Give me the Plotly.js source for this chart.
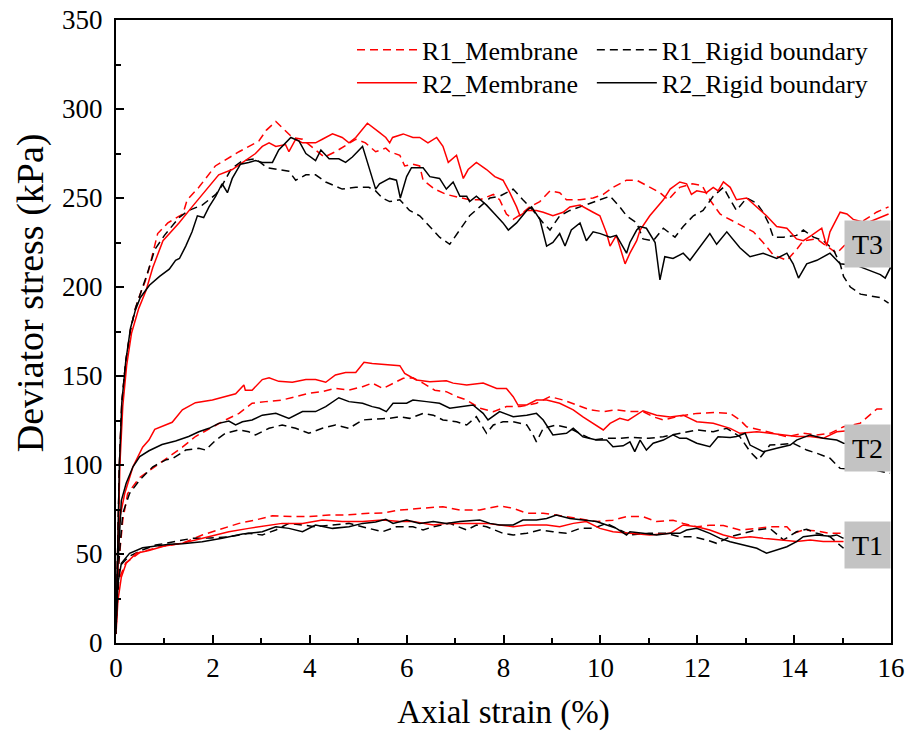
<!DOCTYPE html>
<html>
<head>
<meta charset="utf-8">
<script src="https://cdn.plot.ly/plotly-3.0.1.min.js"></script>
<style>html,body{margin:0;padding:0;background:#fff;}#chart{width:906px;height:731px;}</style>
</head>
<body>
<div id="chart"></div>
<script>
// ---- Data: [axial strain (%), deviator stress (kPa)] ----
const seriesNames = ["R1_Membrane", "R2_Membrane", "R1_Rigid boundary", "R2_Rigid boundary"];
const testLabels = ["T1", "T2", "T3"];
const testLabelY = [55.3, 109.4, 224.2];

const T3_R1_Membrane = [[0,5],[0.03,50],[0.07,100],[0.12,135],[0.2,158],[0.3,176],[0.4,188],[0.5,196],[0.6,203],[0.68,210],[0.76,219],[0.86,230],[1.07,236],[1.38,241],[1.47,249],[1.71,256],[2.05,268],[2.54,276],[2.95,282],[3.1,288],[3.3,293],[3.64,284],[3.85,283],[4.26,274],[4.3,273],[4.53,276],[4.81,281],[4.95,283],[5.15,281],[5.36,276],[5.57,278],[5.65,276],[5.86,274],[5.96,268],[6.13,269],[6.27,268],[6.34,260],[6.58,255],[6.82,252],[7.1,250],[7.3,249],[7.51,249],[7.79,252],[7.92,249],[8.06,241],[8.2,238],[8.37,241],[8.54,245],[8.75,248],[8.96,254],[9.16,253],[9.3,249],[9.58,249],[9.85,250],[10.06,252],[10.26,256],[10.54,260],[10.75,260],[10.95,257],[11.23,253],[11.4,249],[11.64,256],[11.9,258],[12.1,257],[12.26,249],[12.47,241],[12.6,239],[12.88,235],[13.16,231],[13.36,225],[13.57,218],[13.85,215],[14.05,221],[14.19,226],[14.47,227],[14.67,223],[14.88,219],[15.1,225],[15.3,235],[15.7,242],[15.95,245]];
const T3_R2_Membrane = [[0,5],[0.03,45],[0.08,100],[0.14,133],[0.22,156],[0.32,174],[0.47,188],[0.62,198],[0.76,211],[0.97,226],[1.24,234],[1.3,236],[1.57,245],[1.85,254],[2.12,263],[2.4,266],[2.61,270],[2.88,275],[3.02,279],[3.16,281],[3.3,279],[3.5,280],[3.57,276],[3.71,283],[3.85,281],[4.12,281],[4.26,283],[4.47,286],[4.67,284],[4.81,281],[4.95,284],[5.19,292],[5.43,287],[5.57,284],[5.65,281],[5.71,284],[5.93,286],[6.13,284],[6.27,284],[6.44,281],[6.62,284],[6.75,279],[6.86,270],[7.03,274],[7.17,261],[7.27,266],[7.44,270],[7.65,266],[7.82,262],[7.99,260],[8.13,253],[8.27,245],[8.34,240],[8.48,243],[8.68,243],[8.82,242],[9.02,240],[9.23,242],[9.37,245],[9.58,246],[9.85,242],[9.99,240],[10.13,230],[10.2,223],[10.33,229],[10.51,213],[10.61,219],[10.75,226],[10.82,232],[11.02,240],[11.3,249],[11.44,255],[11.64,259],[11.78,258],[11.88,252],[11.99,254],[12.19,253],[12.33,256],[12.43,254],[12.54,259],[12.68,256],[12.81,249],[13.02,250],[13.23,245],[13.43,240],[13.64,234],[13.85,233],[14.05,227],[14.19,226],[14.36,229],[14.57,233],[14.67,223],[14.74,231],[14.95,242],[15.09,241],[15.22,238],[15.5,236],[15.95,241]];
const T3_R1_Rigid = [[0,5],[0.03,50],[0.07,100],[0.12,135],[0.2,158],[0.3,176],[0.4,188],[0.5,196],[0.64,207],[0.8,221],[1.0,229],[1.3,239],[1.5,243],[1.78,246],[2.06,252],[2.19,257],[2.37,266],[2.61,271],[2.88,272],[3.12,267],[3.4,266],[3.57,265],[3.71,260],[3.92,263],[4.12,263],[4.33,259],[4.67,255],[4.95,256],[5.22,256],[5.36,254],[5.5,250],[5.65,248],[5.86,249],[6.06,243],[6.27,240],[6.48,234],[6.68,228],[6.89,224],[7.1,232],[7.3,240],[7.51,245],[7.72,250],[7.92,251],[8.2,255],[8.4,249],[8.61,243],[8.82,236],[8.96,232],[9.16,240],[9.37,243],[9.58,245],[9.78,247],[9.99,249],[10.2,251],[10.4,245],[10.54,240],[10.75,236],[10.88,227],[11.09,226],[11.3,233],[11.54,228],[11.71,234],[11.92,240],[12.12,243],[12.33,251],[12.54,256],[12.68,249],[12.81,243],[13.02,250],[13.23,247],[13.36,242],[13.47,236],[13.57,228],[13.78,228],[14.05,229],[14.19,232],[14.4,228],[14.6,226],[14.81,221],[14.95,213],[15.02,206],[15.16,200],[15.37,196],[15.57,195],[15.78,194],[15.95,191]];
const T3_R2_Rigid = [[0,5],[0.03,50],[0.07,100],[0.12,135],[0.2,158],[0.3,177],[0.4,187],[0.5,194],[0.6,198],[0.69,201],[0.9,206],[1.1,210],[1.23,215],[1.31,216],[1.44,223],[1.57,231],[1.68,240],[1.81,239],[1.92,245],[2.06,251],[2.19,258],[2.3,253],[2.4,261],[2.57,269],[2.74,270],[2.88,271],[3.02,270],[3.23,270],[3.36,277],[3.61,284],[3.78,282],[3.92,275],[4.12,271],[4.23,277],[4.4,272],[4.6,272],[4.74,270],[4.88,273],[5.09,279],[5.22,268],[5.36,255],[5.44,258],[5.65,261],[5.79,260],[5.87,250],[6.0,262],[6.1,267],[6.34,267],[6.48,262],[6.68,261],[6.82,255],[6.96,259],[7.1,251],[7.24,251],[7.3,248],[7.44,251],[7.65,246],[7.82,241],[7.99,236],[8.1,232],[8.27,236],[8.48,243],[8.58,245],[8.75,238],[8.89,223],[9.02,225],[9.16,230],[9.27,223],[9.4,232],[9.58,236],[9.71,226],[9.85,231],[10.0,230],[10.2,228],[10.33,229],[10.54,219],[10.61,225],[10.75,232],[10.82,234],[10.95,233],[11.13,225],[11.23,204],[11.33,217],[11.5,216],[11.71,219],[11.85,215],[12.06,223],[12.26,230],[12.4,224],[12.61,231],[12.88,222],[13.09,217],[13.36,219],[13.64,216],[13.85,219],[13.98,213],[14.09,205],[14.26,213],[14.47,215],[14.74,219],[14.95,213],[15.3,212],[15.78,207],[15.88,205],[15.99,211]];

const T2_R1_Membrane = [[0,8],[0.04,40],[0.14,69],[0.24,84],[0.49,93],[0.75,98],[1.02,103],[1.37,110],[1.64,116],[1.99,121.5],[2.26,125.3],[2.54,129],[2.81,134.7],[3.09,135.6],[3.43,136.5],[3.71,138.4],[3.98,140.3],[4.26,141.2],[4.53,143.1],[4.81,142.1],[5.09,144],[5.29,146],[5.51,143],[5.79,146.8],[5.93,148.7],[6.13,149],[6.34,146],[6.58,142],[6.82,141.2],[7.03,138.4],[7.24,136.5],[7.51,131.9],[7.79,130],[8.06,132.8],[8.34,132.8],[8.68,134.7],[8.96,138.4],[9.23,136.5],[9.51,133.7],[9.78,131],[10.06,130],[10.33,131],[10.61,130],[10.88,130],[11.1,127],[11.3,125.3],[11.64,127.5],[11.99,129],[12.4,129.5],[12.68,129],[12.88,125.3],[13.02,121.5],[13.3,119.7],[13.57,117.8],[13.85,115.9],[14.19,117.8],[14.47,116.9],[14.74,117.8],[15.02,121.5],[15.36,123.4],[15.57,128],[15.71,131.5],[15.9,131.5]];
const T2_R2_Membrane = [[0,8],[0.03,40],[0.07,69],[0.18,84],[0.35,99],[0.55,110],[0.68,114],[0.8,120],[0.95,121.5],[1.16,124],[1.37,131],[1.64,135],[1.99,136.5],[2.26,138.4],[2.47,140],[2.64,145],[2.67,142],[2.81,142],[3.02,148],[3.16,149],[3.36,147],[3.64,146.5],[3.92,148],[4.12,148],[4.33,146.5],[4.53,150.6],[4.74,152],[4.95,152],[5.12,157.7],[5.29,157],[5.5,156.5],[5.86,155.8],[5.96,151.5],[6.2,147.8],[6.48,146.8],[6.82,147.3],[6.96,146],[7.24,145],[7.58,146],[7.86,143],[8.06,143],[8.2,138.4],[8.3,133.7],[8.48,133.7],[8.68,136.5],[8.89,136.5],[9.16,134.7],[9.44,131],[9.64,127],[9.85,123.4],[10.06,119.7],[10.2,123.4],[10.4,126.2],[10.57,125],[10.75,128],[10.88,130.5],[11.16,128],[11.44,127],[11.71,128],[11.99,124.3],[12.33,123.4],[12.68,120.6],[12.88,117.8],[13.23,118.7],[13.5,117.8],[13.78,117],[14.05,116],[14.33,116],[14.6,115],[14.88,118.7],[15.02,119],[15.4,120]];
const T2_R1_Rigid = [[0,8],[0.04,40],[0.14,72.9],[0.28,84],[0.49,91.6],[0.76,99],[1.04,103],[1.16,103.5],[1.44,108.4],[1.71,109.4],[1.85,108.4],[2.06,114],[2.26,117.8],[2.54,119.7],[2.74,118.7],[2.88,116.9],[3.16,120.6],[3.43,122.5],[3.71,120.6],[3.98,117.8],[4.26,120.6],[4.53,122.5],[4.81,120.6],[5.09,125.3],[5.5,126],[5.65,126.2],[5.86,127.1],[6.06,126.2],[6.34,129],[6.55,128],[6.75,125.3],[7.03,124.3],[7.24,122.5],[7.44,127.1],[7.65,117.8],[7.79,122.5],[7.99,124.3],[8.2,124.3],[8.48,122.5],[8.61,116.9],[8.68,113],[8.82,120.6],[9.09,122.5],[9.37,120.6],[9.64,116.9],[9.85,114],[10.13,115],[10.4,115],[10.61,115.5],[11.0,115],[11.3,115.9],[11.64,117.8],[11.99,119.7],[12.33,118.7],[12.61,120.6],[12.88,115.9],[13.09,107.5],[13.26,102.8],[13.5,111.2],[13.71,111.5],[13.98,112.2],[14.26,108.4],[14.47,106.6],[14.74,103.8],[14.95,98.1],[15.3,97.5],[15.67,97.2],[15.98,95.3]];
const T2_R2_Rigid = [[0,8],[0.03,40],[0.11,80],[0.21,89.7],[0.35,99],[0.49,104.7],[0.68,108],[0.95,111.5],[1.23,113.5],[1.5,116],[1.71,118.7],[1.92,120.6],[2.12,123.4],[2.33,124.7],[2.47,122.5],[2.61,124.3],[2.81,125.3],[3.02,128],[3.3,129],[3.57,126.2],[3.85,130],[4.12,130],[4.33,132.8],[4.6,137.8],[4.81,135.6],[5.09,134.7],[5.29,132.8],[5.44,131.9],[5.58,130],[5.72,134.7],[6.0,134.7],[6.13,136.5],[6.41,135.6],[6.68,134.7],[6.89,131.9],[7.17,132.8],[7.37,133.7],[7.58,129],[7.68,125.3],[7.92,130],[8.2,127.1],[8.48,128],[8.68,129],[8.82,125.3],[9.02,116.9],[9.3,117.8],[9.44,120.6],[9.64,115.9],[9.92,114],[10.13,114],[10.26,110.3],[10.47,110.8],[10.61,113],[10.71,107.5],[10.82,114],[10.95,108.4],[11.09,112.2],[11.3,114],[11.5,116.9],[11.64,115],[11.78,115],[11.99,112.2],[12.26,110.3],[12.43,115.9],[12.68,115.5],[12.81,116],[12.99,117.8],[13.09,111.2],[13.36,107.5],[13.64,109.4],[13.92,111.2],[14.05,114],[14.33,116.9],[14.6,115],[14.88,114],[15.02,112.2],[15.4,112]];

const T1_R1_Membrane = [[0,8],[0.05,35],[0.2,45],[0.5,51],[0.9,54],[1.37,56],[1.78,60.7],[2.19,64.4],[2.54,67.2],[2.88,69.1],[3.23,71.5],[3.64,71],[3.98,71],[4.4,71.9],[4.81,72],[5.22,72.9],[5.5,73],[5.86,74.7],[6.27,75.7],[6.75,76.6],[7.1,74.7],[7.51,74.7],[7.92,77],[8.2,75.7],[8.48,72.9],[8.82,72.9],[9.09,71.9],[9.3,71],[9.58,70],[9.92,68.2],[10.26,69],[10.54,71],[10.88,71],[11.16,68.2],[11.5,69],[11.71,67.2],[11.99,65.3],[12.26,66.2],[12.54,66],[12.88,63.5],[13.23,64.4],[13.5,65.3],[13.85,65.3],[13.98,61.6],[14.19,63.5],[14.47,63],[14.74,61.6],[15.02,61.6]];
const T1_R2_Membrane = [[0,5],[0.04,24],[0.11,37],[0.21,44.8],[0.42,50.4],[0.68,52],[1.0,54.5],[1.37,56],[1.66,58],[1.92,59.7],[2.33,62.5],[2.74,64.4],[3.16,66.3],[3.43,67.2],[3.85,67.2],[4.26,69.1],[4.67,68.2],[5.09,68.2],[5.5,69.1],[5.86,68.2],[6.13,68.2],[6.55,66.3],[6.82,67.2],[7.24,67.2],[7.65,67.2],[7.92,66.3],[8.2,65.3],[8.48,66.3],[8.89,66.3],[9.16,65.3],[9.44,67.2],[9.71,68.2],[9.99,64.4],[10.26,62.5],[10.54,61.6],[10.61,61.6],[11.02,60.7],[11.44,61.6],[11.71,66.3],[11.99,65.3],[12.26,63.5],[12.54,60.7],[12.81,58.8],[13.09,59.7],[13.36,58.8],[13.71,57.9],[14.05,57],[14.33,57.9],[14.6,57],[14.88,57],[15.02,57]];
const T1_R1_Rigid = [[0,8],[0.07,42.9],[0.26,48.5],[0.54,52.2],[0.82,55],[1.16,56.9],[1.57,58.8],[1.95,59],[2.33,59.7],[2.74,61.6],[3.02,60.7],[3.3,63.5],[3.57,67.2],[3.85,66.3],[4.12,65.3],[4.47,66.3],[4.81,67.2],[5.22,64.4],[5.5,62.5],[5.79,65.3],[6.13,65.3],[6.34,63.5],[6.55,65.3],[6.89,67.2],[7.24,63.5],[7.44,66.3],[7.65,65.3],[7.99,61.6],[8.2,60.7],[8.48,61.6],[8.75,63.5],[9.02,62.5],[9.3,61.6],[9.58,64.4],[9.85,64.4],[10.13,67.2],[10.4,63.5],[10.61,60.7],[11.0,61.6],[11.37,61.6],[11.64,59.7],[11.92,59.7],[12.19,57.9],[12.4,56],[12.68,59.7],[12.95,61.6],[13.23,63.5],[13.5,64.4],[13.78,57.9],[14.05,62.5],[14.26,63.9],[14.47,61.6],[14.74,59.7],[15.02,53.2]];
const T1_R2_Rigid = [[0,8],[0.04,33.5],[0.11,44.8],[0.28,50.4],[0.55,53.5],[0.82,54.5],[1.1,55.5],[1.37,55.8],[1.78,56.9],[2.19,58.8],[2.61,61.2],[3.02,62.5],[3.3,65.3],[3.57,64.4],[3.85,62.5],[4.12,66.3],[4.47,64.4],[4.81,65.3],[5.09,67.2],[5.36,68],[5.57,69.5],[5.72,67.2],[6.0,69.1],[6.27,67.2],[6.55,68.2],[6.82,67.2],[7.1,68.2],[7.51,69.1],[7.72,67.2],[7.92,66.3],[8.2,66.3],[8.4,69.1],[8.68,69.1],[8.89,70],[9.09,71.9],[9.37,70],[9.64,69.1],[9.92,68.2],[10.13,66.3],[10.33,64.4],[10.54,60.7],[10.61,62.5],[10.88,61.6],[11.16,60.7],[11.44,61.6],[11.64,61.6],[11.78,63.5],[11.99,64.4],[12.26,61.6],[12.47,58.8],[12.68,56.9],[12.95,55],[13.23,53.2],[13.43,50.4],[13.64,52.2],[13.85,54.1],[14.05,56.9],[14.19,59.7],[14.47,60.7],[14.74,60],[14.88,60.7],[15.02,58.8]];

const xTickVals = [0, 2, 4, 6, 8, 10, 12, 14, 16];
const yTickVals = [0, 50, 100, 150, 200, 250, 300, 350];

// ---- Styling ----
const FONT = "Liberation Serif";
const RED = "#ff0000", BLACK = "#000000";
const DASH = "8px,5px";

// legend slot per series: R1 rows on top, Membrane column on the left
const groups = [
  {name: seriesNames[0], color: RED,   dash: DASH,    legend: "legend",  sets: [T3_R1_Membrane, T2_R1_Membrane, T1_R1_Membrane]},
  {name: seriesNames[2], color: BLACK, dash: DASH,    legend: "legend2", sets: [T3_R1_Rigid, T2_R1_Rigid, T1_R1_Rigid]},
  {name: seriesNames[1], color: RED,   dash: "solid", legend: "legend3", sets: [T3_R2_Membrane, T2_R2_Membrane, T1_R2_Membrane]},
  {name: seriesNames[3], color: BLACK, dash: "solid", legend: "legend4", sets: [T3_R2_Rigid, T2_R2_Rigid, T1_R2_Rigid]}
];

const traces = [];
groups.forEach(g => {
  g.sets.forEach((pts, i) => {
    traces.push({
      type: "scatter", mode: "lines",
      x: pts.map(p => p[0]), y: pts.map(p => p[1]),
      name: g.name, legendgroup: g.name, legend: g.legend,
      showlegend: i === 0,
      line: {color: g.color, width: 1.5, dash: g.dash},
      hoverinfo: "skip"
    });
  });
});

const annotations = testLabels.map((t, i) => ({
  x: 15.52, y: testLabelY[i], xref: "x", yref: "y",
  text: t, showarrow: false,
  font: {family: FONT, size: 28, color: "#000"},
  bgcolor: "#c3c3c3", width: 45, height: 46,
  align: "center", valign: "middle", borderpad: 0
}));
annotations.push({
  x: -0.111, y: 0.563, xref: "paper", yref: "paper",
  text: "Deviator stress (kPa)", textangle: -90, showarrow: false,
  font: {family: FONT, size: 38, color: "#000"},
  xanchor: "center", yanchor: "middle"
});

const legendBase = {
  xanchor: "left", yanchor: "top", bgcolor: "rgba(0,0,0,0)", borderwidth: 0,
  font: {family: FONT, size: 26, color: "#000"}, itemwidth: 60, tracegroupgap: 0,
  orientation: "v"
};

const layout = {
  width: 906, height: 731,
  margin: {l: 116, r: 15, t: 20, b: 88, pad: 0},
  paper_bgcolor: "#fff", plot_bgcolor: "#fff",
  font: {family: FONT, color: "#000"},
  showlegend: true,
  legend:  Object.assign({}, legendBase, {x: 0.3045, y: 0.99}),
  legend2: Object.assign({}, legendBase, {x: 0.614,  y: 0.99}),
  legend3: Object.assign({}, legendBase, {x: 0.3045, y: 0.937}),
  legend4: Object.assign({}, legendBase, {x: 0.614,  y: 0.937}),
  xaxis: {
    range: [0, 16], tickvals: xTickVals, ticktext: xTickVals.map(String),
    ticks: "inside", ticklen: 8, tickwidth: 2, tickcolor: "#000",
    minor: {dtick: 1, tick0: 0, ticks: "inside", ticklen: 5, tickwidth: 2, tickcolor: "#000", showgrid: false},
    showline: true, linewidth: 2, linecolor: "#000", mirror: true,
    showgrid: false, zeroline: false,
    tickfont: {family: FONT, size: 27, color: "#000"},
    title: {text: "Axial strain (%)", font: {family: FONT, size: 33, color: "#000"}, standoff: 22}
  },
  yaxis: {
    range: [0, 350], tickvals: yTickVals, ticktext: yTickVals.map(String),
    ticks: "inside", ticklen: 8, tickwidth: 2, tickcolor: "#000",
    minor: {dtick: 25, tick0: 0, ticks: "inside", ticklen: 5, tickwidth: 2, tickcolor: "#000", showgrid: false},
    showline: true, linewidth: 2, linecolor: "#000", mirror: true,
    showgrid: false, zeroline: false,
    tickfont: {family: FONT, size: 27, color: "#000"},
    ticklabelstandoff: 6
  },
  annotations: annotations
};

Plotly.newPlot("chart", traces, layout, {displayModeBar: false, staticPlot: true});
</script>
</body>
</html>
